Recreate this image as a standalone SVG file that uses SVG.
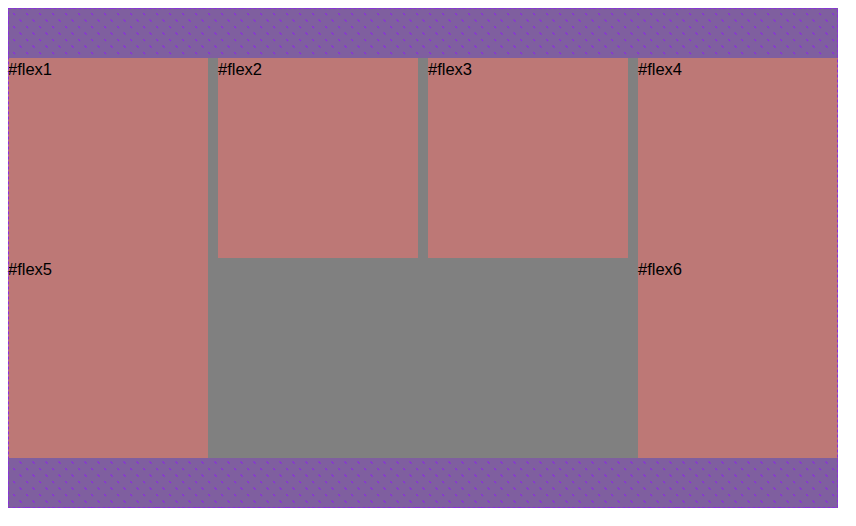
<svg xmlns="http://www.w3.org/2000/svg" width="856" height="526" viewBox="0 0 856 526">
<style>
.item{fill:#bd7876}
.lbl{font-family:"Liberation Sans",Arial,sans-serif;font-size:16.5px;fill:#000}
</style>
<defs>
<pattern id="hatch" patternUnits="userSpaceOnUse" width="13" height="13">
<rect width="13" height="13" fill="#7f5f9f"/>
<path d="M0,0 L13,13" stroke="#8a2be2" stroke-width="1.2" stroke-dasharray="3,6.2"/>
</pattern>
</defs>
<rect width="856" height="526" fill="#fff"/>
<g id="container">
<rect x="8" y="8" width="830" height="500" fill="url(#hatch)"/>
<rect x="208" y="58" width="430" height="400" fill="#808080"/>
</g>
<g id="flex1"><rect class="item" x="8" y="58" width="200" height="200"/><text class="lbl" x="8" y="75">#flex1</text></g>
<g id="flex2"><rect class="item" x="218" y="58" width="200" height="200"/><text class="lbl" x="218" y="75">#flex2</text></g>
<g id="flex3"><rect class="item" x="428" y="58" width="200" height="200"/><text class="lbl" x="428" y="75">#flex3</text></g>
<g id="flex4"><rect class="item" x="638" y="58" width="200" height="200"/><text class="lbl" x="638" y="75">#flex4</text></g>
<g id="flex5"><rect class="item" x="8" y="258" width="200" height="200"/><text class="lbl" x="8" y="275">#flex5</text></g>
<g id="flex6"><rect class="item" x="638" y="258" width="200" height="200"/><text class="lbl" x="638" y="275">#flex6</text></g>
<g id="border"><rect x="8.5" y="8.5" width="829" height="499" fill="none" stroke="#8a2be2" stroke-width="1" stroke-dasharray="3,2"/></g>
</svg>
